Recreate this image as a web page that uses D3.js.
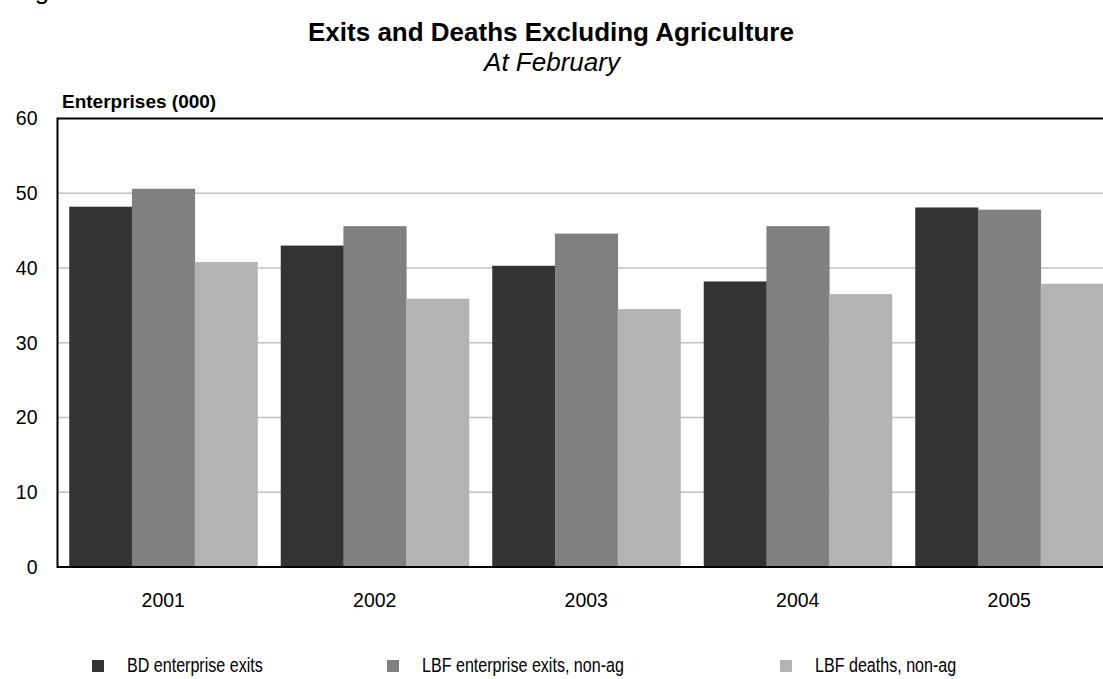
<!DOCTYPE html>
<html>
<head>
<meta charset="utf-8">
<script src="https://cdn.jsdelivr.net/npm/d3@7"></script>
<style>
  html, body { margin: 0; padding: 0; background: #fff; }
  svg { display: block; font-family: "Liberation Sans", Arial, sans-serif; }
</style>
</head>
<body>
<svg id="chart" width="1103" height="679"></svg>
<script>
// Enterprise exits and deaths (thousands), excluding agriculture, at February
const years = ["2001", "2002", "2003", "2004", "2005"];
const seriesNames = ["BD enterprise exits", "LBF enterprise exits, non-ag", "LBF deaths, non-ag"];
const bdExits = [48.2, 43.0, 40.3, 38.2, 48.1];
const lbfExits = [50.6, 45.6, 44.6, 45.6, 47.8];
const lbfDeaths = [40.8, 35.9, 34.5, 36.5, 37.9];
const yTicks = [0, 10, 20, 30, 40, 50, 60];
const colors = ["#333333", "#808080", "#b3b3b3"];

const seriesValues = [bdExits, lbfExits, lbfDeaths];

const svg = d3.select("#chart");
const plotLeft = 57.5, plotRight = 1115, plotTop = 118.5, plotBottom = 567;

const x = d3.scaleBand()
  .domain(years)
  .range([plotLeft, plotRight])
  .paddingInner(0.111)
  .paddingOuter(0.0555);

const xInner = d3.scaleBand()
  .domain(seriesNames)
  .range([0, x.bandwidth()]);

const y = d3.scaleLinear().domain([0, 60]).range([plotBottom, plotTop]);

// Horizontal gridlines
svg.append("g")
  .selectAll("line")
  .data(yTicks.filter(t => t > 0 && t < 60))
  .join("line")
  .attr("x1", plotLeft).attr("x2", plotRight)
  .attr("y1", d => y(d)).attr("y2", d => y(d))
  .attr("stroke", "#c0c0c0")
  .attr("stroke-width", 1.5);

// Bars
const groups = svg.append("g")
  .selectAll("g")
  .data(years)
  .join("g")
  .attr("transform", d => `translate(${x(d)},0)`);

groups.selectAll("rect")
  .data((yr, i) => seriesNames.map((s, k) => ({ s, k, v: seriesValues[k][i] })))
  .join("rect")
  .attr("x", d => xInner(d.s))
  .attr("width", xInner.bandwidth() + 0.5)
  .attr("y", d => y(d.v))
  .attr("height", d => y(0) - y(d.v))
  .attr("fill", d => colors[d.k]);

// Frame: top border, left axis, baseline
svg.append("line")
  .attr("x1", plotLeft).attr("x2", plotRight)
  .attr("y1", y(60)).attr("y2", y(60))
  .attr("stroke", "#000").attr("stroke-width", 2);
svg.append("line")
  .attr("x1", plotLeft).attr("x2", plotRight)
  .attr("y1", y(0)).attr("y2", y(0))
  .attr("stroke", "#000").attr("stroke-width", 2);
svg.append("line")
  .attr("x1", plotLeft).attr("x2", plotLeft)
  .attr("y1", y(60) - 1).attr("y2", y(0) + 1)
  .attr("stroke", "#000").attr("stroke-width", 2);

// Y axis labels
const yAxis = d3.axisLeft(y).tickValues(yTicks).tickSize(0).tickPadding(20);
svg.append("g")
  .attr("transform", `translate(${plotLeft},0)`)
  .call(yAxis)
  .call(g => g.select(".domain").remove())
  .selectAll("text")
  .attr("font-size", 19.5)
  .attr("font-family", "Liberation Sans, Arial, sans-serif")
  .attr("fill", "#000");

// X axis labels
const xAxis = d3.axisBottom(x).tickSize(0).tickPadding(26);
svg.append("g")
  .attr("transform", `translate(0,${plotBottom})`)
  .call(xAxis)
  .call(g => g.select(".domain").remove())
  .selectAll("text")
  .attr("font-size", 19.5)
  .attr("font-family", "Liberation Sans, Arial, sans-serif")
  .attr("fill", "#000");

// Titles
svg.append("text")
  .attr("x", 13).attr("y", -1.5)
  .attr("font-size", 26)
  .text("Figure 3");

svg.append("text")
  .attr("x", 551).attr("y", 41)
  .attr("text-anchor", "middle")
  .attr("font-size", 26).attr("font-weight", "bold")
  .text("Exits and Deaths Excluding Agriculture");

svg.append("text")
  .attr("x", 552).attr("y", 71)
  .attr("text-anchor", "middle")
  .attr("font-size", 26).attr("font-style", "italic")
  .text("At February");

svg.append("text")
  .attr("x", 62).attr("y", 108)
  .attr("font-size", 19).attr("font-weight", "bold")
  .text("Enterprises (000)");

// Legend (condensed lettering)
const legendX = [92, 387, 780];
const legend = svg.append("g")
  .selectAll("g")
  .data(seriesNames)
  .join("g")
  .attr("transform", (d, i) => `translate(${legendX[i]},659)`);
legend.append("rect")
  .attr("y", 1)
  .attr("width", 12).attr("height", 12)
  .attr("fill", (d, i) => colors[i]);
legend.append("text")
  .attr("transform", "translate(35,13) scale(0.825,1)")
  .attr("font-size", 19.5)
  .text(d => d);
</script>
</body>
</html>
